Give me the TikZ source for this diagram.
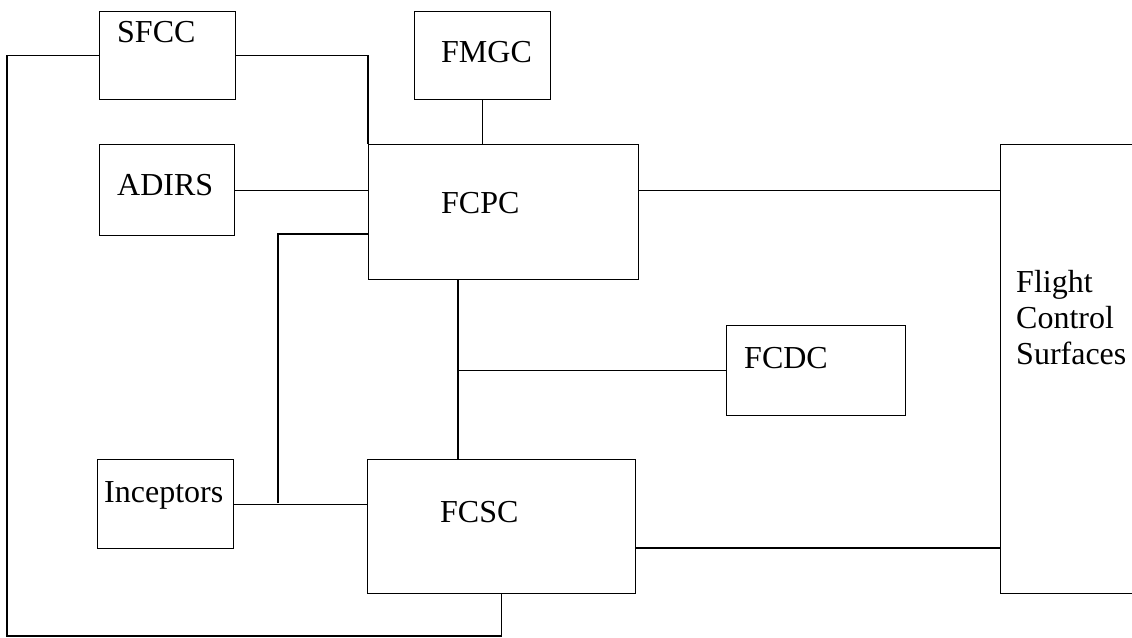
\documentclass[tikz,border=0pt]{standalone}
\usepackage{fontspec}
\setmainfont{Liberation Serif}
\begin{document}
\begin{tikzpicture}[x=1pt,y=-1pt,
  box/.style={draw, line width=1.2pt, inner sep=0pt, anchor=north west, rectangle},
  lbl/.style={inner sep=0pt, anchor=base west, font=\fontsize{32}{36}\selectfont},
  wire/.style={line width=1.2pt}]
\useasboundingbox (0,0) rectangle (1132,637);
% boxes
\node[box, minimum width=136pt, minimum height=88pt] (sfcc) at (99,11) {};
\node[box, minimum width=136pt, minimum height=88pt] (fmgc) at (414,11) {};
\node[box, minimum width=135pt, minimum height=91pt] (adirs) at (99,144) {};
\node[box, minimum width=270pt, minimum height=135pt] (fcpc) at (368,144) {};
\node[box, minimum width=179pt, minimum height=90pt] (fcdc) at (726,325) {};
\node[box, minimum width=136pt, minimum height=89pt] (inc) at (97,459) {};
\node[box, minimum width=268pt, minimum height=134pt] (fcsc) at (367,459) {};
\node[box, minimum width=145pt, minimum height=449pt] (fcs) at (1000,144) {};
% labels
\node[lbl] (sfcct) at (117,42) {SFCC};
\node[lbl] (fmgct) at (441,62) {FMGC};
\node[lbl] (adirst) at (117,195) {ADIRS};
\node[lbl] (fcpct) at (441,213) {FCPC};
\node[lbl] (fcdct) at (744,368) {FCDC};
\node[lbl] (inct) at (104,502) {Inceptors};
\node[lbl] (fcsct) at (440,522) {FCSC};
\node[lbl] (fcst1) at (1016,292) {Flight};
\node[lbl] (fcst2) at (1016,328) {Control};
\node[lbl] (fcst3) at (1016,364) {Surfaces};
% helper coordinates
\coordinate (lb) at (7,636);
\coordinate (jn) at (278,503);
\coordinate (vtop) at ([xshift=90pt]fcpc.south west);
\coordinate (vbot) at ([xshift=91pt]fcsc.north west);
% connectors
\draw[wire] (sfcc.west) -| (lb) -| (fcsc.south);
\draw[wire] (sfcc.east) -| (fcpc.north west);
\draw[wire] (fmgc.south) -- (fmgc.south |- fcpc.north);
\draw[wire] (adirs.east) -- (adirs.east -| fcpc.west);
\draw[wire] (adirs.east -| fcpc.east) -- (adirs.east -| fcs.west);
\draw[wire] (inc.east) -- (inc.east -| fcsc.west);
\draw[wire] (jn) |- ([yshift=-90pt]fcpc.north west);
\draw[wire] (vtop) -- (vbot);
\draw[wire] (fcdc.west) -- (fcdc.west -| vtop);
\draw[wire] ([yshift=-89pt]fcsc.north east) -- ([yshift=-89pt]fcsc.north east -| fcs.west);
\end{tikzpicture}
\end{document}
